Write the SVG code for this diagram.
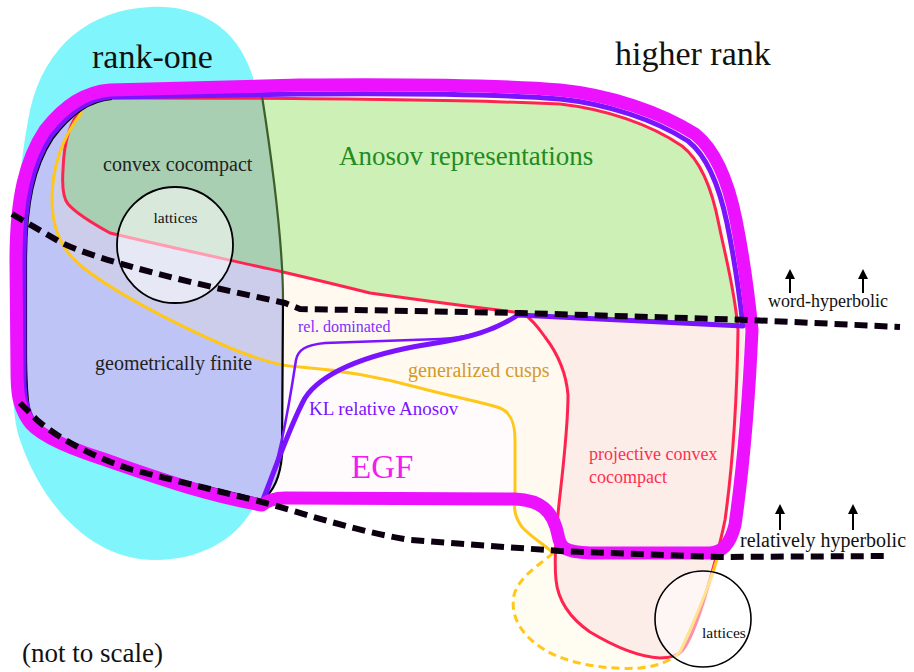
<svg xmlns="http://www.w3.org/2000/svg" width="914" height="672" viewBox="0 0 914 672">
<style>
text{font-family:"Liberation Serif","Times New Roman",serif;fill:#111}
.red{fill:none;stroke:#ff2450;stroke-width:3}
.yel{fill:none;stroke:#ffc71a;stroke-width:3}
.pur{fill:none;stroke:#7a14ff;stroke-linejoin:round}
.dash{fill:none;stroke:#0c0010;stroke-width:6;stroke-dasharray:13 7}
.arr{stroke:#000;stroke-width:2;marker-end:url(#ah)}
</style>
<defs>
<marker id="ah" viewBox="0 0 10 10" refX="8" refY="5" markerWidth="5" markerHeight="5" orient="auto"><path d="M0,0 L10,5 L0,10 Z" fill="#000"/></marker>
</defs>
<g id="rank-one-blob">
<path d="M253,77 C235,20 190,5 150,7 C90,10 45,45 30,110 C18,170 12,250 12,330 C12,390 13,420 20,440 C38,495 85,560 155,560 C200,560 235,540 252,510 L265,300 Z" fill="#80f6fc"/>
</g>
<g id="egf-fill">
<path d="M262,505 C200,494 150,475 100,458 C60,445 35,432 28,420 C18,405 17,390 17,370 L16,260 C16,200 25,160 45,130 C65,105 85,92 110,90 L300,85 C420,84 500,85 560,90 C610,95 660,112 695,134 C715,150 728,180 736,220 C742,250 748,290 752,330 C748,420 740,490 735,525 C730,545 722,552 710,553 L590,553 C565,552 560,548 558,535 C553,510 540,500 515,499 L285,498 C275,498 268,500 262,505 Z" fill="#fffbfd"/>
</g>
<g id="geometrically-finite">
<path d="M262,96 C275,180 283,250 283,320 L282,455 C280,480 272,493 262,500 C200,485 130,470 100,458 C60,445 35,430 30,415 C27,400 26,380 26,350 L26,260 C26,204 34,167 53,138 C71,114 89,101 112,99 Z" fill="#bec4f6"/>
</g>
<g id="generalized-cusps">
<path d="M82,112 C60,140 52,170 52,200 C52,230 62,250 80,265 C110,290 170,322 230,348 C260,360 280,366 300,367 C340,370 380,377 420,388 C450,396 485,403 500,408 C512,413 515,425 515,440 L515,493 C514,505 513,515 522,527 C532,538 545,545 553,553 C540,565 520,575 514,595 C510,615 520,635 545,650 C570,665 610,670 640,668 C660,666 672,660 680,652 C695,620 712,580 720,548 C730,500 738,420 743,326 C739,290 733,252 727,223 C719,185 707,156 688,141 C655,120 608,104 560,99 C500,94 420,93 300,94 L110,97 C98,98 88,103 82,112 Z" fill="#fff5c0" fill-opacity="0.2"/>
</g>
<g id="projective-convex-cocompact">
<path d="M523,313 L745,325 C742,400 735,470 725,530 C718,570 705,610 693,635 C688,648 680,657 668,658 C640,658 610,645 585,628 C565,612 556,590 555,555 C555,520 565,470 568,420 C569,390 560,360 545,337 C538,327 530,318 523,313 Z" fill="#fcede8"/>
</g>
<g id="anosov">
<path d="M110,98 C300,98 450,99 560,104 C605,109 650,124 682,146 C700,160 712,188 719,225 C725,255 735,290 740,325 L523,313 C470,307 420,300 370,293 C330,283 283,272 283,272 C230,260 160,245 110,233 C90,222 75,212 68,204 C63,198 62,185 63,170 C64,140 70,120 85,105 C92,99 100,98 110,98 Z" fill="#ccf0b6"/>
</g>
<g id="convex-cocompact">
<path d="M262,96 C272,160 280,220 283,272 C230,260 160,245 110,233 C90,222 75,212 68,204 C63,198 62,185 63,170 C64,140 70,120 85,105 C92,99 100,98 110,98 Z" fill="#a8cfb2"/>
</g>
<g id="boundaries">
<path class="red" d="M523,313 C470,307 420,300 370,293 C330,283 283,272 283,272 C230,260 160,245 110,233 C90,222 75,212 68,204 C63,198 62,185 63,170 C64,140 70,120 85,105 C92,99 100,98 110,98 C300,98 450,99 560,104 C605,109 650,124 682,146 C700,160 712,188 719,225 C725,255 735,290 738,330 C737,400 732,470 725,520 C720,545 713,570 703,603 C697,622 690,640 683,650 C678,656 670,658 660,658 C640,657 615,647 590,632 C570,618 558,600 556,580 C554,560 556,530 560,495 C564,460 568,420 568,395 C566,370 555,350 545,337 C538,327 530,318 523,313"/>
<path class="yel" d="M82,112 C60,140 52,170 52,200 C52,230 62,250 80,265 C110,290 170,322 230,348 C260,360 280,366 300,367 C340,370 380,377 420,388 C450,396 485,403 500,408 C512,413 515,425 515,440 L515,493 C514,505 513,515 522,527 C532,538 545,545 553,553"/>
<path class="yel" d="M680,652 C695,620 712,580 720,548"/>
<path d="M553,553 C540,565 520,575 514,595 C510,615 520,635 545,650 C570,665 610,670 640,668 C660,666 672,660 680,652" fill="none" stroke="#ffc71a" stroke-width="3" stroke-dasharray="8 5"/>
<path d="M283,300 L282,455 C280,480 272,493 262,500 C200,485 130,470 100,458 C60,445 35,430 30,415 C27,400 26,380 26,350 L26,260 C26,204 34,167 53,138 C71,114 89,101 112,99" fill="none" stroke="#000" stroke-width="2.2"/>
<path d="M262,96 C275,180 283,250 283,300" fill="none" stroke="#3e5e2c" stroke-width="2.2"/>
</g>
<g id="lattices-top">
<circle cx="175" cy="245" r="58" fill="#fff" fill-opacity="0.55" stroke="#000" stroke-width="1.8"/>
<text x="175.5" y="223" font-size="15.5" text-anchor="middle">lattices</text>
</g>
<g id="lattices-bottom">
<circle cx="703" cy="619" r="48" fill="#fff" fill-opacity="0.5" stroke="#000" stroke-width="1.6"/>
<text x="702" y="638" font-size="15.5">lattices</text>
</g>
<g id="kl-relative-anosov">
<path class="pur" stroke-width="2.5" d="M266,497 C280,460 290,400 296,360 C298,350 305,345 325,343 L440,339 C470,338 500,328 518,315"/>
<path class="pur" stroke-width="5" d="M262,502 C275,470 290,425 305,398 C320,375 360,355 430,344 C470,338 495,330 518,315 L743,326 C739,290 733,252 727,223 C719,185 707,156 688,141 C655,120 608,104 560,99 C500,94 420,93 300,94 L110,97 C88,99 70,112 51,136 C32,165 24,203 24,260 L24,380 C24,400 28,415 38,428 C70,450 120,467 200,487 Z"/>
</g>
<g id="egf">
<path d="M262,505 C200,494 150,475 100,458 C60,445 35,432 28,420 C18,405 17,390 17,370 L16,260 C16,200 25,160 45,130 C65,105 85,92 110,90 L300,85 C420,84 500,85 560,90 C610,95 660,112 695,134 C715,150 728,180 736,220 C742,250 748,290 752,330 C748,420 740,490 735,525 C730,545 722,552 710,553 L590,553 C565,552 560,548 558,535 C553,510 540,500 515,499 L285,498 C275,498 268,500 262,505 Z" fill="none" stroke="#ec12ff" stroke-width="13" stroke-linejoin="round"/>
</g>
<g id="connectors">
<path class="dash" d="M12,214 L60,242 C100,262 200,285 285,303 L300,309 L520,313 L750,320 L900,327"/>
<path class="dash" d="M20,403 L37,420 C60,440 100,460 133,470 L262,502 C300,512 350,530 410,540 L560,551 L720,557 L887,556"/>
<line class="arr" x1="790" y1="293" x2="790" y2="271"/>
<line class="arr" x1="863" y1="293" x2="863" y2="271"/>
<line class="arr" x1="780" y1="530" x2="780" y2="506"/>
<line class="arr" x1="853" y1="530" x2="853" y2="506"/>
</g>
<g id="labels">
<text x="92" y="68" font-size="34">rank-one</text>
<text x="615" y="65" font-size="34">higher rank</text>
<text x="103" y="171" font-size="20" style="fill:#222">convex cocompact</text>
<text x="339" y="165" font-size="27" style="fill:#228b22">Anosov representations</text>
<text x="95" y="370" font-size="20" style="fill:#222">geometrically finite</text>
<text x="298" y="332" font-size="16" style="fill:#8030ff">rel. dominated</text>
<text x="408" y="377" font-size="20" style="fill:#d49a2a">generalized cusps</text>
<text x="309" y="415" font-size="19" style="fill:#7a14ff">KL relative Anosov</text>
<text x="351" y="478" font-size="33" style="fill:#f01cf0">EGF</text>
<text x="589" y="460" font-size="18" style="fill:#ff3050">projective convex</text>
<text x="589" y="483" font-size="18" style="fill:#ff3050">cocompact</text>
<text x="768" y="307" font-size="18">word-hyperbolic</text>
<text x="740" y="547" font-size="20">relatively hyperbolic</text>
<text x="22" y="662" font-size="27">(not to scale)</text>
</g>
</svg>
